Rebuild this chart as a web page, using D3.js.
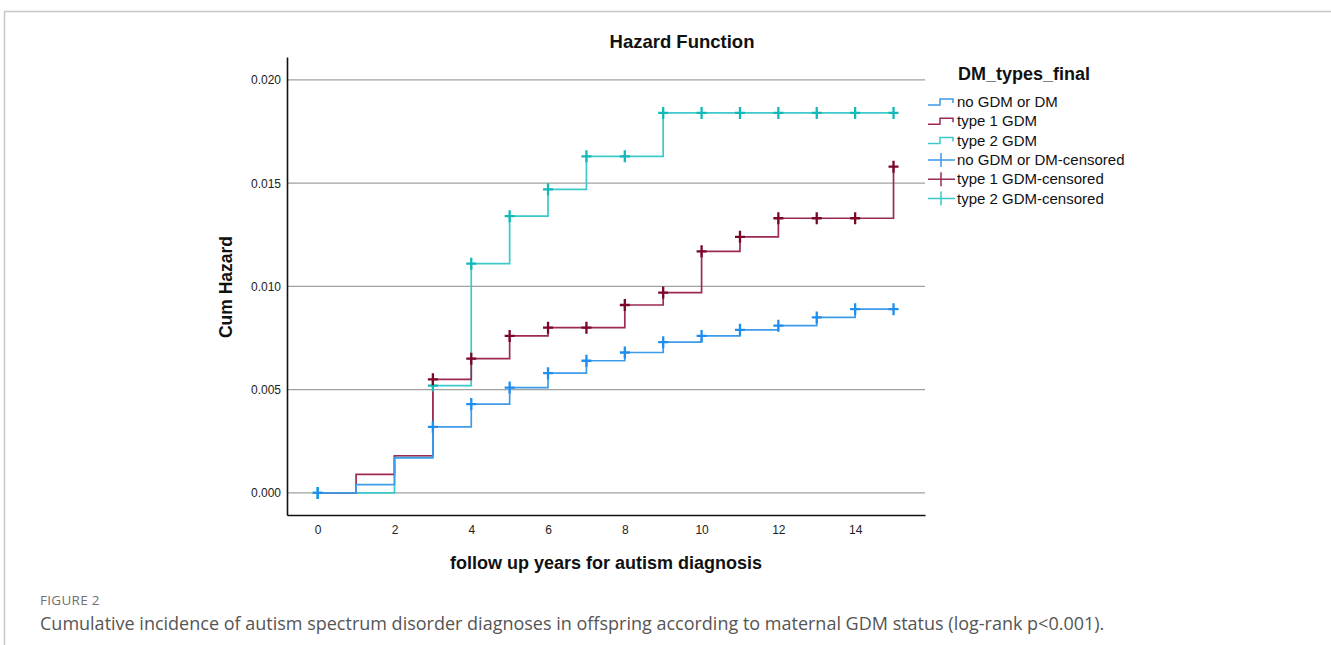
<!DOCTYPE html>
<html>
<head>
<meta charset="utf-8">
<script src="https://cdn.jsdelivr.net/npm/d3@7"></script>
<style>
  body { margin: 0; background: #fff; }
  svg { display: block; }
</style>
</head>
<body>
<svg id="chart" width="1331" height="645"></svg>
<script>
// follow up years and cumulative hazard per group
const years = [0, 1, 2, 3, 4, 5, 6, 7, 8, 9, 10, 11, 12, 13, 14, 15];
const noGdm = [0, 0.0004, 0.0017, 0.0032, 0.0043, 0.0051, 0.0058, 0.0064, 0.0068, 0.0073, 0.0076, 0.0079, 0.0081, 0.0085, 0.0089, 0.0089];
const type1Gdm = [0, 0.0009, 0.0018, 0.0055, 0.0065, 0.0076, 0.0080, 0.0080, 0.0091, 0.0097, 0.0117, 0.0124, 0.0133, 0.0133, 0.0133, 0.0158];
const type2Gdm = [0, 0, 0.0018, 0.0052, 0.0111, 0.0134, 0.0147, 0.0163, 0.0163, 0.0184, 0.0184, 0.0184, 0.0184, 0.0184, 0.0184, 0.0184];
const noGdmCensored = [0, 3, 4, 5, 6, 7, 8, 9, 10, 11, 12, 13, 14, 15];
const type1Censored = [3, 4, 5, 6, 7, 8, 9, 10, 11, 12, 13, 14, 15];
const type2Censored = [0, 3, 4, 5, 6, 7, 8, 9, 10, 11, 12, 13, 14, 15];
const xTicks = [0, 2, 4, 6, 8, 10, 12, 14];
const yTicks = [0, 0.005, 0.010, 0.015, 0.020];
const groupNames = ['no GDM or DM', 'type 1 GDM', 'type 2 GDM'];

const LINE_COLORS = ['#3d9be8', '#9c2a55', '#3cc9c9'];
const MARK_COLORS = ['#1e8ef0', '#7a0628', '#14b8b8'];

const svg = d3.select('#chart');
const FONT = 'Arial, "Liberation Sans", sans-serif';

// page frame
svg.append('path')
  .attr('d', 'M4.5,645 V11.5 H1331')
  .attr('fill', 'none')
  .attr('stroke', '#c8c8c8')
  .attr('stroke-width', 1.5);

const x = d3.scaleLinear().domain([-0.8, 15.82]).range([287, 925]);
const y = d3.scaleLinear().domain([-0.00107, 0.02111]).range([515, 57]);

// gridlines
svg.append('g')
  .selectAll('line')
  .data(yTicks)
  .enter()
  .append('line')
  .attr('x1', 287)
  .attr('x2', 925)
  .attr('y1', d => y(d))
  .attr('y2', d => y(d))
  .attr('stroke', '#a0a0a0')
  .attr('stroke-width', 1.2);

const yAxis = svg.append('g')
  .attr('transform', 'translate(287,0)')
  .call(d3.axisLeft(y).tickValues(yTicks).tickFormat(d3.format('.3f')).tickSizeInner(0).tickSizeOuter(0).tickPadding(6));
const xAxis = svg.append('g')
  .attr('transform', 'translate(0,515)')
  .call(d3.axisBottom(x).tickValues(xTicks).tickSizeInner(0).tickSizeOuter(0).tickPadding(10));

[yAxis, xAxis].forEach(function(a) {
  a.select('.domain').attr('stroke', '#111').attr('stroke-width', 1.6);
  a.selectAll('text')
    .attr('font-family', FONT)
    .attr('font-size', '12px')
    .attr('fill', '#222');
});

// step lines
const series = [noGdm, type1Gdm, type2Gdm];
const censored = [noGdmCensored, type1Censored, type2Censored];
const stepLine = d3.line()
  .x(d => x(d[0]))
  .y(d => y(d[1]))
  .curve(d3.curveStepAfter);

const drawOrder = [2, 1, 0];
drawOrder.forEach(function(i) {
  const pts = years.map((yr, k) => [yr, series[i][k]]);
  svg.append('path')
    .datum(pts)
    .attr('d', stepLine)
    .attr('fill', 'none')
    .attr('stroke', LINE_COLORS[i])
    .attr('stroke-width', 1.7);
});

// censor marks
drawOrder.forEach(function(i) {
  const g = svg.append('g');
  censored[i].forEach(function(yr) {
    const cx = x(yr);
    const cy = y(series[i][years.indexOf(yr)]);
    g.append('path')
      .attr('d', `M${cx - 5},${cy} H${cx + 5} M${cx},${cy - 6} V${cy + 6}`)
      .attr('stroke', MARK_COLORS[i])
      .attr('stroke-width', 2.3)
      .attr('fill', 'none');
  });
});

// titles
svg.append('text')
  .attr('x', 682)
  .attr('y', 48)
  .attr('text-anchor', 'middle')
  .attr('font-family', FONT)
  .attr('font-weight', 'bold')
  .attr('font-size', '18.5px')
  .attr('fill', '#111')
  .text('Hazard Function');

svg.append('text')
  .attr('x', 606)
  .attr('y', 569)
  .attr('text-anchor', 'middle')
  .attr('font-family', FONT)
  .attr('font-weight', 'bold')
  .attr('font-size', '18px')
  .attr('fill', '#111')
  .text('follow up years for autism diagnosis');

svg.append('text')
  .attr('transform', 'translate(232,287) rotate(-90)')
  .attr('text-anchor', 'middle')
  .attr('font-family', FONT)
  .attr('font-weight', 'bold')
  .attr('font-size', '17.5px')
  .attr('fill', '#111')
  .text('Cum Hazard');

// legend
const legend = svg.append('g').attr('transform', 'translate(927,0)');
legend.append('text')
  .attr('x', 31)
  .attr('y', 80)
  .attr('font-family', FONT)
  .attr('font-weight', 'bold')
  .attr('font-size', '18px')
  .attr('fill', '#111')
  .text('DM_types_final');

const legendItems = groupNames.map((n, i) => ({ label: n, kind: 'line', i: i }))
  .concat(groupNames.map((n, i) => ({ label: n + '-censored', kind: 'mark', i: i })));

legendItems.forEach(function(item, k) {
  const cy = 102 + k * 19.3;
  if (item.kind === 'line') {
    legend.append('path')
      .attr('d', `M1,${cy + 3} H13 V${cy - 3} H26 V${cy + 1}`)
      .attr('fill', 'none')
      .attr('stroke', LINE_COLORS[item.i])
      .attr('stroke-width', 1.5);
  } else {
    legend.append('path')
      .attr('d', `M1,${cy} H28 M14,${cy - 7} V${cy + 7}`)
      .attr('fill', 'none')
      .attr('stroke', LINE_COLORS[item.i])
      .attr('stroke-width', 1.5);
  }
  legend.append('text')
    .attr('x', 30)
    .attr('y', cy + 5)
    .attr('font-family', FONT)
    .attr('font-size', '15px')
    .attr('fill', '#111')
    .text(item.label);
});

// caption
svg.append('text')
  .attr('x', 40)
  .attr('y', 605)
  .attr('font-family', '"Open Sans", "Noto Sans", sans-serif')
  .attr('font-size', '13.5px')
  .attr('letter-spacing', '0.3px')
  .attr('fill', '#707070')
  .text('FIGURE 2');

svg.append('text')
  .attr('x', 40)
  .attr('y', 630)
  .attr('font-family', '"Open Sans", "Noto Sans", sans-serif')
  .attr('font-size', '18px')
  .attr('fill', '#555')
  .text('Cumulative incidence of autism spectrum disorder diagnoses in offspring according to maternal GDM status (log-rank p<0.001).');
</script>
</body>
</html>
